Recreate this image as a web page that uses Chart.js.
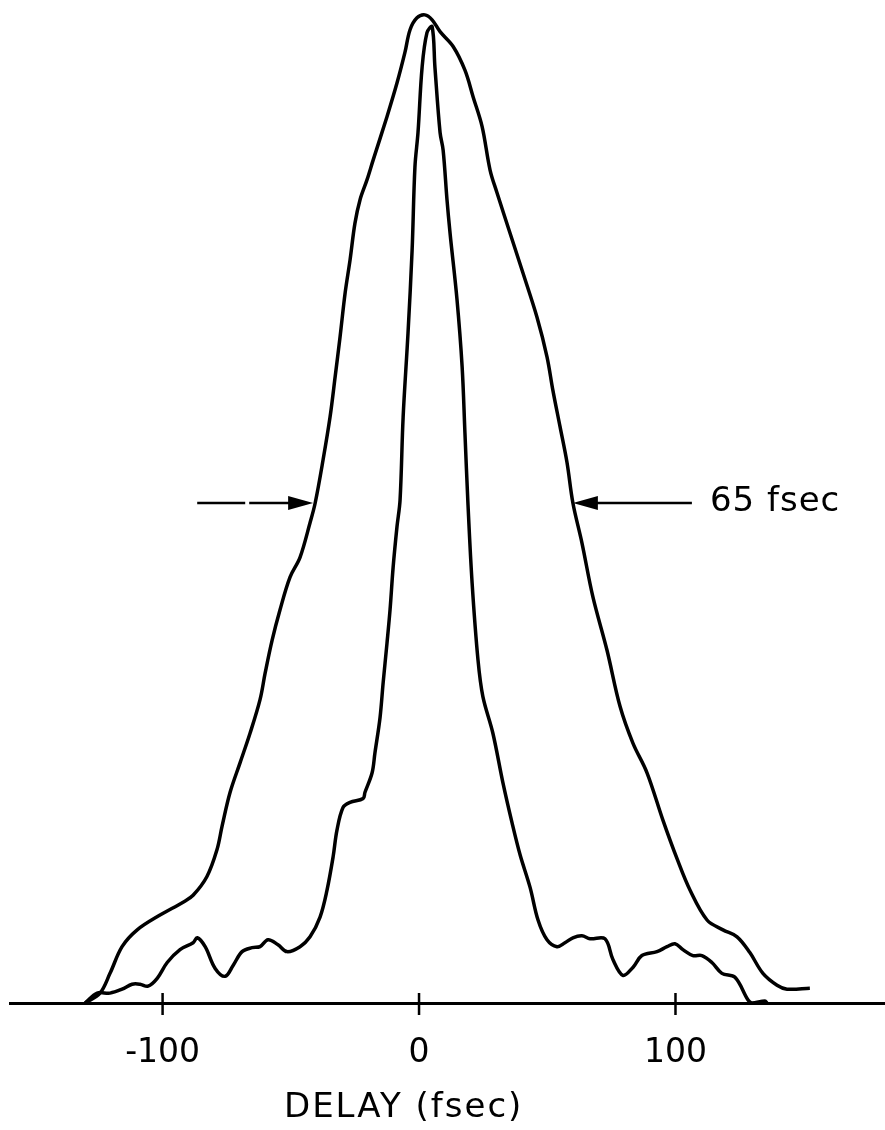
<!DOCTYPE html>
<html>
<head>
<meta charset="utf-8">
<script src="https://cdn.jsdelivr.net/npm/chart.js@4.4.0/dist/chart.umd.min.js"></script>
<style>
  html, body { margin: 0; padding: 0; background: #fff; }
  #wrap { width: 885px; height: 1130px; position: relative; }
</style>
</head>
<body>
<div id="wrap"><canvas id="myChart"></canvas></div>
<script>
// autocorrelation traces, delay in fsec, signal in % of peak
const delayOuter = [-130.2, -124.4, -120.5, -115.8, -109.9, -101.0, -92.0, -88.1, -82.7, -78.8,
  -76.8, -73.7, -69.8, -65.9, -62.0, -60.0, -57.3, -54.2, -50.3, -46.4,
  -42.5, -40.5, -37.4, -34.7, -32.7, -30.8, -28.8, -26.9, -25.0, -23.0,
  -20.3, -17.9, -12.5, -8.6, -5.5, -3.5, -0.8, 2.3, 5.1, 8.2,
  13.3, 17.9, 21.1, 24.6, 27.7, 30.4, 35.5, 40.5, 46.0, 49.9,
  52.2, 55.0, 57.7, 60.0, 63.5, 67.8, 73.3, 78.4, 83.4, 88.9,
  95.1, 100.6, 105.7, 112.3, 118.5, 124.0, 129.0, 134.1, 139.6, 143.5, 152.4];
const signalOuter = [0, 1.0, 3.0, 5.7, 7.4, 8.9, 10.2, 10.9, 12.8, 15.5,
  17.9, 21.3, 24.3, 27.3, 30.7, 33.4, 36.7, 39.8, 43.1, 45.1,
  48.6, 50.6, 55.0, 59.3, 63.4, 67.4, 71.9, 75.2, 78.9, 81.3,
  83.3, 85.3, 89.7, 93.1, 96.2, 98.5, 99.7, 100, 99.5, 98.3,
  96.8, 94.4, 91.7, 88.7, 84.3, 82.0, 77.9, 73.9, 69.4, 65.4,
  62.0, 58.3, 54.7, 50.6, 46.6, 41.1, 35.7, 30.0, 26.3, 23.3,
  18.5, 14.6, 11.4, 8.4, 7.4, 6.7, 5.1, 3.0, 1.8, 1.4, 1.5];

const delayInner = [-130.2, -125.5, -120.5, -115.8, -111.9, -108.8, -105.7, -102.1, -98.2, -93.2,
  -88.1, -86.5, -83.4, -79.5, -75.6, -72.5, -69.0, -65.1, -62.0, -58.9,
  -55.0, -51.5, -46.4, -42.5, -38.6, -35.9, -33.5, -32.0, -29.6, -26.9,
  -21.8, -21.1, -18.3, -17.2, -15.2, -14.0, -12.5, -11.3, -10.1, -8.6,
  -7.4, -6.2, -4.3, -2.7, -1.6, -0.4, 1.2, 3.1, 5.1, 6.2,
  8.2, 9.4, 10.9, 12.1, 14.8, 16.8, 17.9, 19.1, 20.7, 23.0,
  24.9, 28.8, 32.7, 36.3, 39.4, 43.3, 46.4, 49.9, 53.8, 56.9,
  60.0, 63.5, 66.7, 72.5, 75.6, 79.5, 83.4, 86.9, 92.8, 96.7,
  99.8, 102.9, 106.8, 110.3, 114.2, 118.1, 123.2, 128.3, 129.8, 134.9, 135.7];
const signalInner = [0, 1.0, 1.0, 1.4, 1.9, 1.9, 1.7, 2.5, 4.1, 5.4,
  6.1, 6.6, 5.7, 3.5, 2.7, 3.8, 5.2, 5.6, 5.7, 6.4,
  5.9, 5.2, 5.7, 6.7, 8.7, 11.4, 14.8, 17.5, 19.8, 20.3,
  20.7, 21.3, 23.3, 25.3, 28.9, 32.4, 36.4, 39.8, 44.1, 48.2,
  50.9, 59.3, 67.8, 76.2, 84.6, 88.1, 94.7, 98.2, 98.8, 94.7,
  88.1, 86.3, 81.3, 77.9, 71.2, 64.4, 57.7, 50.4, 42.5, 34.7,
  31.0, 27.3, 22.3, 18.2, 15.0, 11.7, 8.4, 6.4, 5.7, 6.1,
  6.6, 6.8, 6.5, 6.5, 4.4, 2.8, 3.6, 4.8, 5.2, 5.7,
  6.0, 5.4, 4.8, 4.8, 4.1, 3.0, 2.6, 0.3, 0, 0.2, 0];

const tickValues = [-100, 0, 100];
const tickLabels = ['-100', '0', '100'];
const axisTitle = 'DELAY (fsec)';
const widthLabel = '65 fsec';

// half-maximum markers (delay values of arrow tips and tails)
const halfLevel = 50.6;
const leftArrow = { from: -86.5, to: -41.3 };
const rightArrow = { from: 106.4, to: 60.0 };

function toPoints(xs, ys) {
  var pts = [];
  for (var i = 0; i < xs.length; i++) {
    pts.push({ x: xs[i], y: ys[i] });
  }
  return pts;
}

function arrowHead(ctx, tipX, y, dir) {
  // dir = 1 points right, -1 points left
  ctx.beginPath();
  ctx.moveTo(tipX, y);
  ctx.lineTo(tipX - dir * 25, y - 7);
  ctx.lineTo(tipX - dir * 25, y + 7);
  ctx.closePath();
  ctx.fill();
}

const extras = {
  id: 'extras',
  afterDraw(chart) {
    const ctx = chart.ctx;
    const xs = chart.scales.x;
    const ys = chart.scales.y;
    const base = ys.getPixelForValue(0);
    ctx.save();
    ctx.strokeStyle = '#000';
    ctx.fillStyle = '#000';

    // tick marks crossing the axis line
    ctx.lineWidth = 2.5;
    tickValues.forEach(function (v) {
      const px = xs.getPixelForValue(v);
      ctx.beginPath();
      ctx.moveTo(px, base - 10);
      ctx.lineTo(px, base + 12);
      ctx.stroke();
    });

    // axis title
    ctx.font = '34px "DejaVu Sans"';
    ctx.letterSpacing = '2px';
    ctx.textAlign = 'center';
    ctx.textBaseline = 'middle';
    ctx.fillText(axisTitle, xs.getPixelForValue(-6), 1108);

    // width markers
    const hy = ys.getPixelForValue(halfLevel);
    ctx.lineWidth = 2.5;
    const l0 = xs.getPixelForValue(leftArrow.from);
    const l1 = xs.getPixelForValue(leftArrow.to);
    ctx.beginPath();
    ctx.moveTo(l0, hy);
    ctx.lineTo(l0 + 48, hy);
    ctx.moveTo(l0 + 52, hy);
    ctx.lineTo(l1 - 20, hy);
    ctx.stroke();
    arrowHead(ctx, l1, hy, 1);

    const r0 = xs.getPixelForValue(rightArrow.from);
    const r1 = xs.getPixelForValue(rightArrow.to);
    ctx.beginPath();
    ctx.moveTo(r0, hy);
    ctx.lineTo(r1 + 20, hy);
    ctx.stroke();
    arrowHead(ctx, r1, hy, -1);

    ctx.letterSpacing = '1px';
    ctx.textAlign = 'left';
    ctx.font = '34px "DejaVu Sans"';
    ctx.fillText(widthLabel, r0 + 18, hy - 1);
    ctx.restore();
  }
};

const data = {
  datasets: [{
    label: 'outer',
    data: toPoints(delayOuter, signalOuter),
    borderColor: '#000',
    borderWidth: 3.5,
    pointRadius: 0,
    tension: 0.35,
    fill: false
  }, {
    label: 'inner',
    data: toPoints(delayInner, signalInner),
    borderColor: '#000',
    borderWidth: 3.5,
    pointRadius: 0,
    tension: 0.35,
    fill: false
  }]
};

const config = {
  type: 'line',
  data: data,
  options: {
    responsive: true,
    maintainAspectRatio: false,
    animation: false,
    layout: { padding: { left: 10, right: 0, top: 5, bottom: 0 } },
    plugins: {
      legend: { display: false },
      tooltip: { enabled: false }
    },
    scales: {
      x: {
        type: 'linear',
        min: -159.5,
        max: 181.7,
        border: { display: true, color: '#000', width: 3 },
        grid: { display: false, drawTicks: false },
        afterBuildTicks: function (scale) {
          scale.ticks = tickValues.map(function (v) { return { value: v }; });
        },
        afterFit: function (scale) { scale.height = 127; },
        ticks: {
          color: '#000',
          padding: 31,
          maxRotation: 0,
          font: { family: 'DejaVu Sans', size: 33 },
          callback: function (value) {
            return tickLabels[tickValues.indexOf(value)];
          }
        }
      },
      y: {
        display: false,
        min: 0,
        max: 101
      }
    }
  },
  plugins: [extras]
};

const myChart = new Chart(document.getElementById('myChart'), config);
</script>
</body>
</html>
